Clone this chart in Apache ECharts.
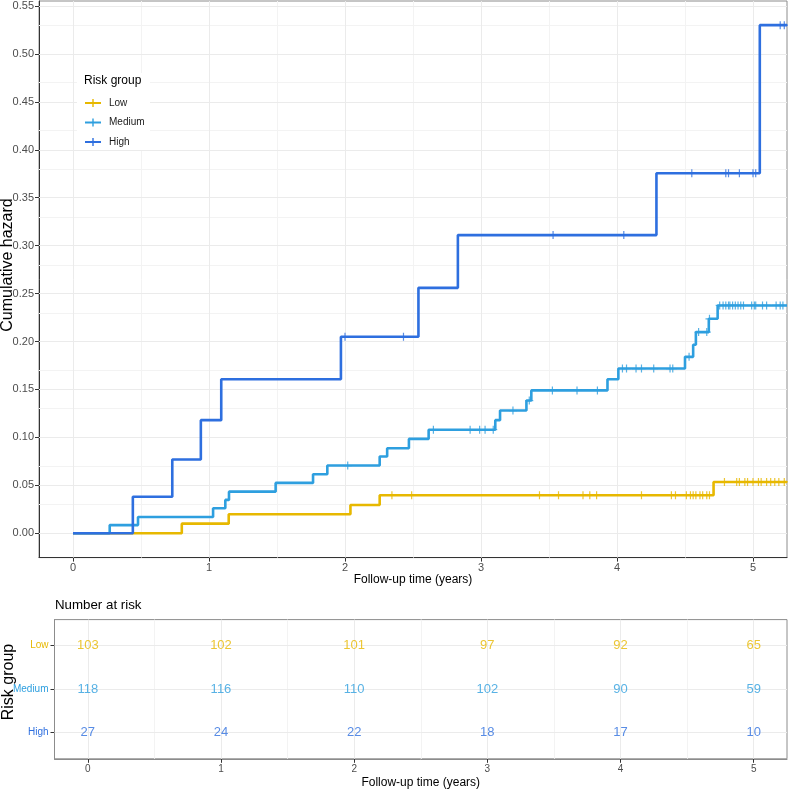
<!DOCTYPE html>
<html>
<head>
<meta charset="utf-8">
<script src="https://cdn.jsdelivr.net/npm/echarts@6/dist/echarts.min.js"></script>
<style>
  html, body { margin: 0; padding: 0; background: #fff; }
  #chart { width: 788px; height: 789px; }
</style>
</head>
<body>
<div id="chart"></div>
<script>
// step times and cumulative hazard after each step
const lowTimes = [0, 0.80, 1.145, 2.04, 2.255, 4.71];
const lowHaz = [0, 0.0100, 0.0198, 0.0295, 0.0397, 0.0535];
const lowCens = [2.345, 2.49, 3.43, 3.57, 3.75, 3.80, 3.85, 4.18, 4.40, 4.43, 4.51, 4.54, 4.56, 4.58,
  4.61, 4.63, 4.66, 4.68, 4.79, 4.88, 4.90, 4.94, 4.96, 5.00, 5.04, 5.06, 5.10, 5.13, 5.16, 5.19, 5.23];

const medTimes = [0, 0.27, 0.478, 1.03, 1.12, 1.147, 1.49, 1.765, 1.87, 2.255, 2.31, 2.47, 2.615,
  3.105, 3.14, 3.334, 3.37, 3.93, 4.01, 4.50, 4.56, 4.58, 4.675, 4.74];
const medHaz = [0, 0.0085, 0.0170, 0.0260, 0.0348, 0.0434, 0.0525, 0.0616, 0.0706, 0.0800, 0.0887,
  0.0984, 0.1080, 0.1180, 0.1280, 0.1384, 0.1490, 0.1607, 0.1718, 0.1840, 0.1966, 0.2098, 0.2237, 0.2376];
const medCens = [2.02, 2.65, 2.92, 2.99, 3.03, 3.09, 3.235, 3.355, 3.525, 3.706, 3.856, 4.04, 4.07,
  4.14, 4.18, 4.27, 4.39, 4.41, 4.53, 4.60, 4.66, 4.68, 4.755, 4.78, 4.80, 4.82, 4.83, 4.85, 4.87,
  4.89, 4.91, 4.93, 4.99, 5.01, 5.02, 5.07, 5.10, 5.17, 5.20, 5.22];

const highTimes = [0, 0.44, 0.73, 0.94, 1.09, 1.97, 2.54, 2.83, 4.29, 5.05];
const highHaz = [0, 0.038, 0.077, 0.118, 0.1607, 0.205, 0.256, 0.311, 0.3755, 0.530];
const highCens = [2.00, 2.43, 3.53, 4.05, 4.55, 4.80, 4.82, 4.90, 5.00, 5.02, 5.20, 5.23];

const endTime = 5.25;

// number at risk table
const riskTimes = [0, 1, 2, 3, 4, 5];
const lowRisk = [103, 102, 101, 97, 92, 65];
const medRisk = [118, 116, 110, 102, 90, 59];
const highRisk = [27, 24, 22, 18, 17, 10];

const groups = ['Low', 'Medium', 'High'];
const xTicks = [0, 1, 2, 3, 4, 5];
const xMinor = [0.5, 1.5, 2.5, 3.5, 4.5];
const yTicks = [0, 0.05, 0.10, 0.15, 0.20, 0.25, 0.30, 0.35, 0.40, 0.45, 0.50, 0.55];
const yMinor = [0.025, 0.075, 0.125, 0.175, 0.225, 0.275, 0.325, 0.375, 0.425, 0.475, 0.525];

const colors = { Low: '#E7B800', Medium: '#2E9FDF', High: '#2E6FDF' };
const FONT = "'Liberation Sans', Arial, sans-serif";
const PLUS = 'path://M-0.75,-5H0.75V5H-0.75ZM-5,-0.75H5V0.75H-5Z';

function stepData(times, haz) {
  const d = times.map((t, i) => [t, haz[i]]);
  d.push([endTime, haz[haz.length - 1]]);
  return d;
}
function hazAt(times, haz, t) {
  let h = haz[0];
  for (let i = 0; i < times.length; i++) if (times[i] <= t) h = haz[i];
  return h;
}
function censData(times, haz, cens) {
  return cens.map(t => [t, hazAt(times, haz, t)]);
}
function gridLines(xs, ys, color) {
  return xs.map(v => ({ xAxis: v, lineStyle: { color: color, width: 1, type: 'solid' } }))
    .concat(ys.map(v => ({ yAxis: v, lineStyle: { color: color, width: 1, type: 'solid' } })));
}

const curves = [
  ['Low', lowTimes, lowHaz, lowCens],
  ['Medium', medTimes, medHaz, medCens],
  ['High', highTimes, highHaz, highCens]
];

const series = [];
// grid lines of both panels
series.push({
  type: 'line', xAxisIndex: 0, yAxisIndex: 0, data: [], z: 1, silent: true,
  markLine: {
    symbol: 'none', silent: true, animation: false, label: { show: false }, z: 1,
    data: gridLines(xMinor, yMinor, '#F3F3F3').concat(gridLines(xTicks, yTicks, '#EBEBEB'))
  }
});
series.push({
  type: 'line', xAxisIndex: 1, yAxisIndex: 1, data: [], z: 1, silent: true,
  markLine: {
    symbol: 'none', silent: true, animation: false, label: { show: false }, z: 1,
    data: gridLines(xMinor, [], '#F3F3F3').concat(gridLines(xTicks, [1, 2, 3], '#EBEBEB'))
  }
});

curves.forEach(([name, times, haz, cens]) => {
  series.push({
    name: name, type: 'line', step: 'end', xAxisIndex: 0, yAxisIndex: 0,
    data: stepData(times, haz), showSymbol: false, z: 3,
    lineStyle: { color: colors[name], width: 2.6 }, itemStyle: { color: colors[name] }
  });
  series.push({
    name: name, type: 'scatter', xAxisIndex: 0, yAxisIndex: 0, z: 4,
    data: censData(times, haz, cens), symbol: PLUS, symbolSize: 8,
    itemStyle: { color: colors[name] }
  });
});

const riskRows = [['Low', 3, lowRisk], ['Medium', 2, medRisk], ['High', 1, highRisk]];
riskRows.forEach(([name, row, vals]) => {
  series.push({
    type: 'scatter', xAxisIndex: 1, yAxisIndex: 1, z: 4, silent: true,
    data: riskTimes.map((t, i) => [t, row, vals[i]]),
    symbolSize: 1, itemStyle: { color: 'rgba(0,0,0,0)' },
    label: {
      show: true, position: 'inside', formatter: p => p.value[2],
      color: colors[name], fontSize: 13, fontFamily: FONT
    }
  });
});

const rowNames = { 1: 'High', 2: 'Medium', 3: 'Low' };

const option = {
  animation: false,
  textStyle: { fontFamily: FONT },
  grid: [
    { left: 39, top: 1, right: 1, bottom: 231.4, outerBoundsMode: 'none', containLabel: false,
      show: true, borderColor: '#8C8C8C', borderWidth: 1 },
    { left: 54.5, top: 619.6, right: 1, bottom: 30.2, outerBoundsMode: 'none', containLabel: false,
      show: true, borderColor: '#8C8C8C', borderWidth: 1 }
  ],
  xAxis: [
    {
      type: 'value', gridIndex: 0, min: -0.25, max: endTime,
      axisLine: { show: true, onZero: false, lineStyle: { color: '#333', width: 1 } },
      axisTick: { show: true, length: 4, customValues: xTicks, lineStyle: { color: '#333' } },
      axisLabel: { customValues: xTicks, color: '#4D4D4D', fontSize: 11, margin: 5, fontFamily: FONT },
      splitLine: { show: false },
      name: 'Follow-up time (years)', nameLocation: 'middle', nameGap: 16, nameMoveOverlap: false,
      nameTextStyle: { color: '#000', fontSize: 12, fontFamily: FONT }
    },
    {
      type: 'value', gridIndex: 1, min: -0.25, max: endTime,
      axisLine: { show: true, onZero: false, lineStyle: { color: '#8C8C8C', width: 1 } },
      axisTick: { show: true, length: 4, customValues: xTicks, lineStyle: { color: '#333' } },
      axisLabel: { customValues: xTicks, color: '#4D4D4D', fontSize: 10, margin: 5, fontFamily: FONT },
      splitLine: { show: false },
      name: 'Follow-up time (years)', nameLocation: 'middle', nameGap: 18, nameMoveOverlap: false,
      nameTextStyle: { color: '#000', fontSize: 12, fontFamily: FONT }
    }
  ],
  yAxis: [
    {
      type: 'value', gridIndex: 0, min: -0.0254, max: 0.5552,
      axisLine: { show: true, onZero: false, lineStyle: { color: '#333', width: 1 } },
      axisTick: { show: true, length: 4, customValues: yTicks, lineStyle: { color: '#333' } },
      axisLabel: {
        customValues: yTicks, color: '#4D4D4D', fontSize: 11, margin: 5, fontFamily: FONT,
        formatter: v => v.toFixed(2)
      },
      splitLine: { show: false }
    },
    {
      type: 'value', gridIndex: 1, min: 0.4, max: 3.6,
      axisLine: { show: true, onZero: false, lineStyle: { color: '#8C8C8C', width: 1 } },
      axisTick: { show: true, length: 4, customValues: [1, 2, 3], lineStyle: { color: '#333' } },
      axisLabel: {
        customValues: [1, 2, 3], margin: 6, fontSize: 10, fontFamily: FONT,
        formatter: v => '{' + rowNames[Math.round(v)] + '|' + rowNames[Math.round(v)] + '}',
        rich: {
          Low: { color: colors.Low, fontSize: 10, fontFamily: FONT },
          Medium: { color: colors.Medium, fontSize: 10, fontFamily: FONT },
          High: { color: colors.High, fontSize: 10, fontFamily: FONT }
        }
      },
      splitLine: { show: false }
    }
  ],
  legend: {
    data: groups.map(g => ({ name: g, icon: 'path://M0,3H16V5H0ZM7.3,0H8.7V8H7.3Z' })),
    orient: 'vertical', left: 85, top: 98, itemWidth: 16, itemHeight: 8, itemGap: 9.5,
    padding: 0, z: 6, selectedMode: false,
    textStyle: { fontSize: 10, color: '#1A1A1A', fontFamily: FONT, padding: [0, 0, 0, 3] }
  },
  graphic: [
    { type: 'rect', shape: { x: 77, y: 73, width: 73, height: 77 }, style: { fill: '#fff' }, z: 5, silent: true },
    { type: 'text', x: 84, y: 81, z: 7, silent: true,
      style: { text: 'Risk group', fontSize: 12, fontFamily: FONT, fill: '#000', verticalAlign: 'middle' } },
    { type: 'text', x: 55, y: 605, z: 7, silent: true,
      style: { text: 'Number at risk', fontSize: 13.3, fontFamily: FONT, fill: '#000', verticalAlign: 'middle' } },
    { type: 'text', x: 16, y: 265, rotation: Math.PI / 2, z: 7, silent: true,
      style: { text: 'Cumulative hazard', fontSize: 16, fontFamily: FONT, fill: '#000',
        align: 'center', verticalAlign: 'bottom' } },
    { type: 'text', x: 16.5, y: 682, rotation: Math.PI / 2, z: 7, silent: true,
      style: { text: 'Risk group', fontSize: 16, fontFamily: FONT, fill: '#000',
        align: 'center', verticalAlign: 'bottom' } }
  ],
  series: series
};

const myChart = echarts.init(document.getElementById('chart'), null, { renderer: 'canvas' });
myChart.setOption(option);
</script>
</body>
</html>
